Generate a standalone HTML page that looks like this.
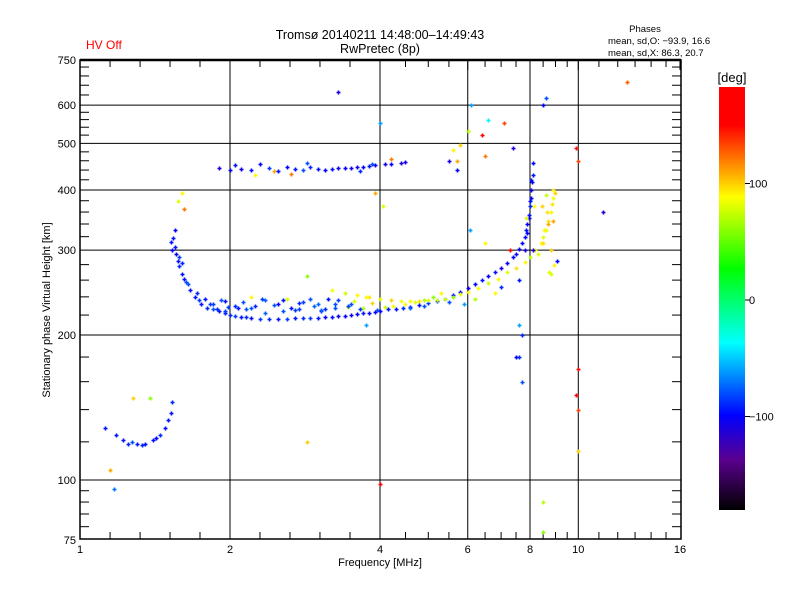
<!DOCTYPE html>
<html><head><meta charset="utf-8"><title>Ionogram</title>
<style>
body{margin:0;background:#fff;}
svg{display:block;font-family:"Liberation Sans","DejaVu Sans",sans-serif;}
</style></head>
<body>
<svg id="chart" width="800" height="600" viewBox="0 0 800 600">
<rect x="0" y="0" width="800" height="600" fill="#fff"/>
<text x="86" y="49" fill="#ff0000" font-size="12">HV Off</text>
<text x="380" y="39" text-anchor="middle" font-size="12.5">Tromsø 20140211 14:48:00–14:49:43</text>
<text x="380" y="53" text-anchor="middle" font-size="12.5">RwPretec (8p)</text>
<text x="645" y="32" text-anchor="middle" font-size="9.5">Phases</text>
<text x="608" y="44" font-size="9.5">mean, sd,O: −93.9, 16.6</text>
<text x="608" y="56" font-size="9.5">mean, sd,X:  86.3, 20.7</text>
<g id="grid"></g>
<g id="ticks"></g>
<g id="marks"></g>
<rect x="80" y="60" width="601" height="479" fill="none" stroke="#000" stroke-width="1.5"/>
<line x1="80" y1="60" x2="681" y2="60" stroke="#000" stroke-width="2.5"/>
<text x="40" y="300" transform="rotate(-90 50 300)" text-anchor="middle" font-size="11">Stationary phase Virtual Height [km]</text>
<text x="380" y="566" text-anchor="middle" font-size="11">Frequency [MHz]</text>
<defs>
<linearGradient id="cbar" x1="0" y1="0" x2="0" y2="1">
<stop offset="0" stop-color="#ff0000"/>
<stop offset="0.09" stop-color="#ff0000"/>
<stop offset="0.184" stop-color="#ff8c00"/>
<stop offset="0.26" stop-color="#ffff00"/>
<stop offset="0.43" stop-color="#00ff00"/>
<stop offset="0.605" stop-color="#00ffff"/>
<stop offset="0.776" stop-color="#0000ff"/>
<stop offset="0.88" stop-color="#5a0090"/>
<stop offset="1" stop-color="#000000"/>
</linearGradient>
</defs>
<rect x="719" y="87" width="26" height="423" fill="url(#cbar)"/>
<text x="732" y="82" text-anchor="middle" font-size="13">[deg]</text>
<g id="cbticks"></g>
</svg>
<script>
var freqs = [1.12,1.18,1.22,1.25,1.3,1.35,1.4,1.45,1.48,1.5,1.52,1.53,1.27,1.33,1.42,
1.55,1.54,1.55,1.56,1.57,1.58,1.6,1.62,1.63,1.66,1.7,1.73,1.75,1.8,1.85,1.9,1.95,2.0,2.05,2.1,2.15,2.2,2.3,2.4,2.5,2.6,2.7,2.8,2.9,3.0,3.1,3.2,3.3,3.4,3.5,3.6,3.7,3.8,3.9,4.0,4.15,4.3,4.45,4.6,4.8,5.0,5.2,5.4,5.6,5.8,6.0,6.2,6.4,6.6,6.8,7.0,7.2,7.4,7.5,7.6,7.7,7.8,7.85,7.9,7.95,8.0,8.02,8.05,8.08,8.1,8.1,7.7,7.5,7.8,7.6,
1.85,1.95,2.05,2.2,2.35,2.5,2.65,2.8,2.95,3.1,3.3,3.5,3.7,2.6,2.2,3.0,
3.2,3.4,3.6,3.8,4.0,4.2,4.4,4.6,4.8,5.0,5.2,5.4,5.6,5.8,6.0,6.3,6.6,6.9,7.2,7.5,7.8,8.0,8.2,8.4,8.5,8.6,8.7,8.8,8.85,8.9,8.9,9.0,8.7,8.5,8.3,
1.9,2.0,2.05,2.1,2.2,2.3,2.4,2.5,2.6,2.7,2.8,2.9,3.0,3.1,3.2,3.3,3.4,3.5,3.6,3.7,3.8,3.9,4.1,4.2,4.4,4.5,2.25,2.45,2.65,2.85,
1.6,1.57,1.62,2.85,2.85,3.3,3.9,4.0,4.05,4.2,3.75,4.0,1.15,1.28,1.38,1.17,5.8,5.6,6.1,6.4,6.6,7.1,7.3,7.6,7.6,7.7,8.5,8.6,9.9,10.0,10.0,9.9,10.0,11.2,12.5,10.0,6.0,6.05,6.5,7.4,8.5,8.5,6.5,5.7,
1.52,1.53,1.58,1.6,1.65,1.72,1.78,1.82,1.88,1.92,1.98,2.08,2.12,2.25,2.32,2.45,2.55,2.7,2.75,2.9,3.05,3.15,3.25,3.45,3.55,3.65,3.75,3.85,3.95,4.1,4.25,4.5,4.7,4.9,5.1,5.3,5.5,5.7,
8.05,7.95,7.9,8.1,8.0,7.85,8.15,8.55,8.65,8.8,8.95,8.75,8.6,8.45,8.9,9.05,8.8,7.0,6.8,6.2,5.9,5.5,4.9,4.6,
1.95,2.15,2.35,2.55,2.75,3.05,3.25,3.45,3.65,3.85,2.4,2.1];
var heights = [128,124,121,119,119,119,121,124,128,133,138,145,120,118,122,
330,318,305,295,285,278,268,262,258,248,240,236,232,228,226,224,222,220,219,218,218,217,216,216,216,216,217,217,217,217,218,218,219,219,220,221,222,222,223,224,226,227,228,229,231,233,235,238,242,246,250,255,260,265,270,275,282,290,295,302,310,320,330,340,355,370,385,400,415,430,455,200,180,300,260,
232,235,230,228,236,232,228,234,230,226,236,232,228,238,240,232,
248,245,242,240,238,236,235,235,235,236,236,237,240,243,246,250,256,262,270,276,284,290,300,310,320,330,345,360,375,385,400,395,340,310,295,
445,440,450,442,440,452,445,438,446,442,440,447,443,441,442,444,445,445,446,447,448,450,452,454,456,458,430,438,432,455,
395,380,365,265,120,640,395,550,370,465,210,98,105,148,148,96,495,485,600,520,560,550,300,210,180,160,600,620,490,460,170,150,140,360,670,115,530,330,310,490,78,90,470,460,
312,300,290,282,255,245,238,232,226,236,229,228,234,230,238,231,236,225,233,237,224,238,232,229,235,226,240,233,225,229,230,232,234,236,240,244,
460,440,420,350,325,300,380,350,370,330,360,300,280,270,390,370,345,285,268,252,245,238,232,234,
230,228,224,226,222,224,226,225,228,230,438,452];
var phases = [-95,-95,-95,-90,-95,-95,-95,-90,-95,-95,-95,-90,-80,-90,-100,
-100,-95,-95,-100,-95,-90,-95,-95,-80,-95,-95,-85,-95,-90,-80,-95,-95,-90,-85,-95,-90,-95,-85,-90,-95,-85,-95,-90,-85,-95,-100,-95,-105,-100,-105,-100,-95,-100,-105,-100,-95,-95,-90,-100,-95,-85,-90,-100,-95,-100,-105,-100,-95,-100,-95,-105,-100,-100,-105,-105,-100,-100,-95,-100,-95,-90,-100,-105,-100,-95,-100,-90,-100,-110,-95,
-85,-95,-90,-80,-75,-100,-95,-85,-75,-90,-85,-80,70,80,90,-75,
85,75,90,95,80,100,85,90,95,80,70,75,60,80,90,85,75,90,80,95,90,70,85,90,80,85,95,90,95,85,90,100,110,95,80,
-110,-100,-95,-105,-95,-100,-85,-95,-100,-95,-80,-90,-95,-100,-95,-105,-100,-110,-105,-100,-95,-105,-110,-100,-110,-105,90,110,120,-80,
90,80,120,60,100,-110,110,-60,80,120,-60,160,110,100,60,-70,100,90,-60,150,-40,130,160,-60,-90,-80,-100,-80,140,130,140,150,130,-110,125,100,70,-60,90,-110,60,70,120,110,
-95,-100,-85,-90,-80,-90,-95,-85,-90,-80,-85,-95,-80,-90,-85,-80,-95,-85,-90,-80,-90,-95,-80,70,80,-85,90,100,-80,75,85,90,80,70,60,90,
-110,-100,-95,-105,-100,-110,-95,80,90,85,95,100,90,80,75,100,110,-100,80,-90,90,70,-60,-80,
-80,-75,-85,-80,-75,-80,-85,-75,-80,-85,-90,-80];

var X0=80, PXO=150, Y100=480, PYO=145;
function xs(f){return X0+PXO*Math.log2(f);}
function ys(h){return Y100-PYO*Math.log2(h/100);}
var stops=[[180,[255,0,0]],[142,[255,0,0]],[116,[255,140,0]],[88,[255,255,0]],[27,[0,255,0]],[-37,[0,255,255]],[-99,[0,0,255]],[-137,[90,0,144]],[-180,[0,0,0]]];
function col(p){
  for(var i=0;i<stops.length-1;i++){
    var a=stops[i],b=stops[i+1];
    if(p<=a[0]&&p>=b[0]){var t=(a[0]-p)/(a[0]-b[0]);
      var c=a[1].map(function(v,k){return Math.round(v+(b[1][k]-v)*t);});
      return 'rgb('+c.join(',')+')';}
  }
  return p>180?'rgb(255,0,0)':'rgb(0,0,0)';
}
var NS='http://www.w3.org/2000/svg';
function mk(tag,attrs,parent){var e=document.createElementNS(NS,tag);for(var k in attrs)e.setAttribute(k,attrs[k]);parent.appendChild(e);return e;}
var grid=document.getElementById('grid'), ticks=document.getElementById('ticks'), marks=document.getElementById('marks');
[2,4,6,8,10].forEach(function(f){
  var l=mk('line',{x1:xs(f),x2:xs(f),y1:60,y2:539,stroke:'#000','stroke-width':1},grid);
  
  
});
[100,200,300,400,500,600].forEach(function(h){
  var l=mk('line',{x1:80,x2:681,y1:ys(h),y2:ys(h),stroke:'#000','stroke-width':1},grid);
  
  
});
var xMinor=[1.149,1.32,1.516,1.741,2.297,2.639,3.031,3.482,4.5,5,5.5,6.5,7,7.5,8.5,9,9.5,11,12,13,14,15];
xMinor.forEach(function(f){
  mk('line',{x1:xs(f),x2:xs(f),y1:60,y2:67,stroke:'#000'},ticks);
  mk('line',{x1:xs(f),x2:xs(f),y1:532,y2:539,stroke:'#000'},ticks);
});
var xLabels=[1,2,4,6,8,10,16];
xLabels.forEach(function(f){
  mk('line',{x1:xs(f),x2:xs(f),y1:60,y2:70,stroke:'#000'},ticks);
  var t=mk('text',{x:xs(f),y:553,'text-anchor':'middle','font-size':11},ticks);
  t.textContent=f;
  
  
});
var yMinor=[80,85,90,95,120,140,160,180,220,240,260,280,320,340,360,380,420,440,460,480,520,540,560,580,630,660,690,720];
yMinor.forEach(function(h){
  mk('line',{x1:80,x2:89,y1:ys(h),y2:ys(h),stroke:'#000'},ticks);
  mk('line',{x1:672,x2:681,y1:ys(h),y2:ys(h),stroke:'#000'},ticks);
});
var yLabels=[75,100,200,300,400,500,600,750];
yLabels.forEach(function(h){
  var y=h==750?60:ys(h);
  var t=mk('text',{x:76,y:y+4,'text-anchor':'end','font-size':11},ticks);
  t.textContent=h;
  
  
});
for(var i=0;i<freqs.length;i++){
  var x=Math.round(xs(freqs[i]))+0.5, y=Math.round(ys(heights[i]))+0.5;
  if(y<60||y>539) continue;
  var p=mk('path',{d:'M'+(x-2)+' '+y+'h4M'+x+' '+(y-2)+'v4',stroke:col(phases[i]),'stroke-width':1.6},marks);
  
  
}
var cbVals=[100,0,-100];
var cb=document.getElementById('cbticks');
cbVals.forEach(function(v){
  var y=300-v*1.165;
  mk('line',{x1:745,x2:750,y1:y,y2:y,stroke:'#000'},cb);
  var t=mk('text',{x:749,y:y+4,'font-size':11},cb);
  t.textContent=v==-100?'−100':v;
  
  
});
</script>
</body></html>
